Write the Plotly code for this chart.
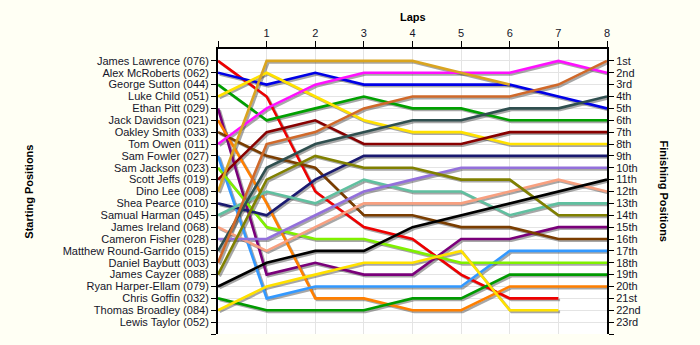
import plotly.graph_objects as go

# Race lap chart: each driver's running position after every lap
laps = [0, 1, 2, 3, 4, 5, 6, 7, 8]

drivers = [
    "James Lawrence (076)", "Alex McRoberts (062)", "George Sutton (044)",
    "Luke Child (051)", "Ethan Pitt (029)", "Jack Davidson (021)",
    "Oakley Smith (033)", "Tom Owen (011)", "Sam Fowler (027)",
    "Sam Jackson (023)", "Scott Jeffs (019)", "Dino Lee (008)",
    "Shea Pearce (010)", "Samual Harman (045)", "James Ireland (068)",
    "Cameron Fisher (028)", "Matthew Round-Garrido (015)", "Daniel Baybutt (003)",
    "James Cayzer (088)", "Ryan Harper-Ellam (079)", "Chris Goffin (032)",
    "Thomas Broadley (084)", "Lewis Taylor (052)",
]

finish_labels = [
    "1st", "2nd", "3rd", "4th", "5th", "6th", "7th", "8th", "9th", "10th",
    "11th", "12th", "13th", "14th", "15th", "16th", "17th", "18th", "19th",
    "20th", "21st", "22nd", "23rd",
]

# positions per lap (None = no longer running)
positions = {
    "James Lawrence (076)":        [1, 4, 12, 15, 16, 19, 21, 21, None],
    "Alex McRoberts (062)":        [2, 3, 2, 3, 3, 3, 3, 4, 5],
    "George Sutton (044)":         [3, 6, 5, 4, 5, 5, 6, 6, 6],
    "Luke Child (051)":            [4, 2, 4, 6, 7, 7, 8, 8, 8],
    "Ethan Pitt (029)":            [5, 19, 18, 19, 19, 16, 16, 15, 15],
    "Jack Davidson (021)":         [6, 13, 21, 21, 22, 22, 20, 20, 20],
    "Oakley Smith (033)":          [7, 9, 10, 14, 14, 15, 15, 16, 16],
    "Tom Owen (011)":              [8, 5, 3, 2, 2, 2, 2, 1, 2],
    "Sam Fowler (027)":            [9, 21, 20, 20, 20, 20, 17, 17, 17],
    "Sam Jackson (023)":           [10, 15, 16, 16, 17, 18, 18, 18, 18],
    "Scott Jeffs (019)":           [11, 7, 6, 8, 8, 8, 7, 7, 7],
    "Dino Lee (008)":              [12, 1, 1, 1, 1, 2, 3, None, None],
    "Shea Pearce (010)":           [13, 14, 11, 9, 9, 9, 9, 9, 9],
    "Samual Harman (045)":         [14, 12, 13, 11, 12, 12, 14, 13, 13],
    "James Ireland (068)":         [15, 17, 15, 13, 13, 13, 12, 11, 12],
    "Cameron Fisher (028)":        [16, 16, 14, 12, 11, 10, 10, 10, 10],
    "Matthew Round-Garrido (015)": [17, 10, 8, 7, 6, 6, 5, 5, 4],
    "Daniel Baybutt (003)":        [18, 8, 7, 5, 4, 4, 4, 3, 1],
    "James Cayzer (088)":          [19, 11, 9, 10, 10, 11, 11, 14, 14],
    "Ryan Harper-Ellam (079)":     [20, 18, 17, 17, 15, 14, 13, 12, 11],
    "Chris Goffin (032)":          [21, 22, 22, 22, 21, 21, 19, 19, 19],
    "Thomas Broadley (084)":       [22, 20, 19, 18, 18, 17, 22, 22, None],
}

colors = {
    "James Lawrence (076)": "#ee0000",
    "Alex McRoberts (062)": "#0000e6",
    "George Sutton (044)": "#00a000",
    "Luke Child (051)": "#ffe100",
    "Ethan Pitt (029)": "#7a007a",
    "Jack Davidson (021)": "#ff7f00",
    "Oakley Smith (033)": "#7a3d00",
    "Tom Owen (011)": "#ff10ff",
    "Sam Fowler (027)": "#3399ff",
    "Sam Jackson (023)": "#80f000",
    "Scott Jeffs (019)": "#880000",
    "Dino Lee (008)": "#daa520",
    "Shea Pearce (010)": "#1a1a70",
    "Samual Harman (045)": "#60c0a0",
    "James Ireland (068)": "#f8a080",
    "Cameron Fisher (028)": "#9370db",
    "Matthew Round-Garrido (015)": "#2f4f4f",
    "Daniel Baybutt (003)": "#d0692a",
    "James Cayzer (088)": "#808000",
    "Ryan Harper-Ellam (079)": "#000000",
    "Chris Goffin (032)": "#009a00",
    "Thomas Broadley (084)": "#ffe100",
}

FONT = "Liberation Sans, Arial, sans-serif"
TEXT = "#15152a"

fig = go.Figure()

# soft drop shadow under every line, nudged right/down
for name, pos in positions.items():
    fig.add_trace(go.Scatter(
        x=[l + 0.035 for l in laps],
        y=[None if p is None else p + 0.14 for p in pos],
        mode="lines", line=dict(color="rgba(60,60,60,0.45)", width=2.6),
        hoverinfo="skip", showlegend=False,
    ))

for name, pos in positions.items():
    fig.add_trace(go.Scatter(
        x=laps, y=pos, mode="lines", name=name,
        line=dict(color=colors[name], width=2.6),
        showlegend=False,
    ))

# invisible trace so the finishing-position axis is drawn
fig.add_trace(go.Scatter(x=[0], y=[1], yaxis="y2", mode="markers",
                         marker=dict(opacity=0), hoverinfo="skip",
                         showlegend=False))

ticks = list(range(1, len(drivers) + 2))

fig.update_layout(
    width=700, height=345,
    margin=dict(l=218, r=93, t=49, b=11),
    paper_bgcolor="#fffff4",
    plot_bgcolor="#ffffff",
    font=dict(family=FONT, size=11, color=TEXT),
    xaxis=dict(
        side="top", range=[0, 8], tickvals=laps,
        ticktext=[""] + [str(l) for l in laps[1:]],
        ticks="outside", ticklen=6, tickwidth=1, tickcolor="#000",
        showline=True, linecolor="#000", linewidth=2,
        showgrid=True, gridcolor="#e4e4e4", gridwidth=1,
        zeroline=False, fixedrange=True,
    ),
    yaxis=dict(
        range=[24, 0], tickvals=ticks, ticktext=drivers + [""],
        ticks="outside", ticklen=5, tickwidth=1, tickcolor="#000",
        showline=True, linecolor="#000", linewidth=2,
        showgrid=True, gridcolor="#e4e4e4", gridwidth=1,
        zeroline=False, fixedrange=True,
    ),
    yaxis2=dict(
        overlaying="y", side="right", range=[24, 0], tickvals=ticks,
        ticktext=finish_labels + [""],
        ticks="outside", ticklen=5, tickwidth=1, tickcolor="#000",
        showline=True, linecolor="#000", linewidth=2,
        showgrid=False, zeroline=False, fixedrange=True,
    ),
    annotations=[
        dict(text="<b>Laps</b>", xref="paper", yref="paper", x=0.5, y=1.112,
             xanchor="center", yanchor="middle", showarrow=False,
             font=dict(size=11, color="#000")),
        dict(text="<b>Starting Positions</b>", xref="paper", yref="paper",
             x=-0.488, y=0.5, textangle=-90, xanchor="center",
             yanchor="middle", showarrow=False,
             font=dict(size=11, color="#000")),
        dict(text="<b>Finishing Positions</b>", xref="paper", yref="paper",
             x=1.149, y=0.5, textangle=90, xanchor="center",
             yanchor="middle", showarrow=False,
             font=dict(size=11, color="#000")),
    ],
)

fig.write_html("out.html")
